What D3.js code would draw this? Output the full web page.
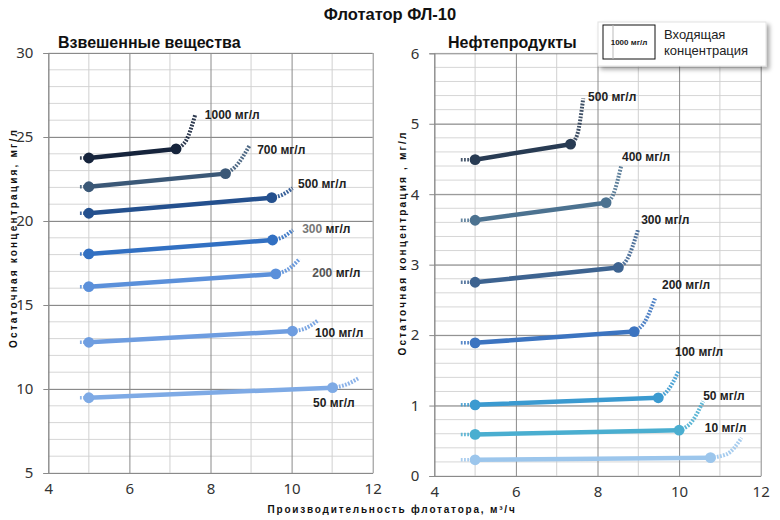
<!DOCTYPE html>
<html>
<head>
<meta charset="utf-8">
<script src="https://cdn.jsdelivr.net/npm/d3@7"></script>
<style>
  body { margin: 0; background: #fff; }
  svg { font-family: "Liberation Sans", Arial, sans-serif; }
  .tick text { font-family: "Noto Sans", sans-serif; font-size: 15px; fill: #333; }
</style>
</head>
<body>
<svg width="780" height="520"></svg>
<script>
// --- data ---
const xTicks = [4, 6, 8, 10, 12];

// Взвешенные вещества (left)
const ssTicks = [5, 10, 15, 20, 25, 30];
const ssNames = ["1000", "700", "500", "300", "200", "100", "50"];
const ssStartY = [23.75, 22.04, 20.46, 18.04, 16.09, 12.78, 9.48];
const ssEndX = [7.15, 8.37, 9.51, 9.53, 9.61, 10.02, 11.01];
const ssEndY = [24.29, 22.82, 21.39, 18.87, 16.85, 13.45, 10.08];
const ssKnee = [[7.4, 24.8], [8.6, 23.2], [9.76, 21.55], [9.79, 19.05], [9.9, 17.1], [10.33, 13.6], [11.32, 10.24]];
const ssTop = [[7.62, 26.3], [8.97, 24.52], [10.02, 21.95], [10.03, 19.46], [10.2, 17.75], [10.66, 14.1], [11.65, 10.64]];
const ssLabelPos = [[7.86, 26.31], [9.15, 24.23], [10.16, 22.2], [10.26, 19.52], [10.51, 16.9], [10.58, 13.33], [10.53, 9.17]];
const ssColors = ["#16243c", "#3b5877", "#24508e", "#3270c2", "#5b90da", "#6e9de0", "#7eaae5"];
const ssNumColors = ["#222", "#222", "#222", "#777", "#555", "#222", "#222"];

// Нефтепродукты (right)
const oilTicks = [0, 1, 2, 3, 4, 5, 6];
const oilNames = ["500", "400", "300", "200", "100", "50", "10"];
const oilStartY = [4.49, 3.63, 2.75, 1.89, 1.01, 0.59, 0.23];
const oilEndX = [7.34, 8.21, 8.51, 8.9, 9.49, 10.0, 10.77];
const oilEndY = [4.71, 3.88, 2.96, 2.05, 1.11, 0.65, 0.26];
const oilKnee = [[7.5, 4.84], [8.38, 3.99], [8.72, 3.07], [9.16, 2.19], [9.73, 1.22], [10.31, 0.77], [11.17, 0.31]];
const oilTop = [[7.65, 5.36], [8.58, 4.4], [8.99, 3.49], [9.41, 2.52], [9.98, 1.48], [10.59, 1.06], [11.53, 0.54]];
const oilLabelPos = [[7.77, 5.38], [8.6, 4.53], [9.07, 3.64], [9.58, 2.71], [9.9, 1.76], [10.59, 1.14], [10.63, 0.68]];
const oilColors = ["#283b53", "#4c7290", "#3d6390", "#3c74c0", "#3b9ad0", "#4aaed0", "#9cc6ec"];

const svg = d3.select("svg");

function drawPanel(p) {
  const x = d3.scaleLinear().domain([4, 12]).range([p.left, p.right]);
  const y = d3.scaleLinear().domain(p.yDomain).range([p.bottom, p.top]);
  const g = svg.append("g");

  // minor grid
  g.append("g")
    .selectAll("line.hmin")
    .data(p.yMinor)
    .join("line")
    .attr("x1", p.left).attr("x2", p.right)
    .attr("y1", d => y(d)).attr("y2", d => y(d))
    .attr("stroke", "#d6d6d6").attr("stroke-width", 1);
  g.append("g")
    .selectAll("line.vmin")
    .data(d3.range(5, 12, 2))
    .join("line")
    .attr("x1", d => x(d)).attr("x2", d => x(d))
    .attr("y1", p.top).attr("y2", p.bottom)
    .attr("stroke", "#d0d0d0").attr("stroke-width", 1);

  // major grid + axes
  const yAxis = g.append("g")
    .attr("transform", `translate(${p.left},0)`)
    .call(d3.axisLeft(y).tickValues(p.yTicks).tickSize(5).tickPadding(10).tickFormat(d3.format("d")));
  yAxis.select(".domain").attr("stroke", "#8a8a8a");
  yAxis.selectAll(".tick line").clone()
    .attr("x1", 0).attr("x2", p.right - p.left);
  yAxis.selectAll(".tick line").attr("stroke", "#8a8a8a");

  const xAxis = g.append("g")
    .attr("transform", `translate(0,${p.bottom})`)
    .call(d3.axisBottom(x).tickValues(xTicks).tickSize(0).tickPadding(10));
  xAxis.select(".domain").attr("stroke", "#8a8a8a");
  xAxis.selectAll(".tick line").attr("y1", 0).attr("y2", p.top - p.bottom).attr("stroke", "#8a8a8a");

  // series
  const line = d3.line().x(d => x(d[0])).y(d => y(d[1]));
  const tail = d3.line().x(d => x(d[0])).y(d => y(d[1])).curve(d3.curveMonotoneX);

  p.names.forEach((name, i) => {
    const c = p.colors[i];
    const s = g.append("g");
    // dotted lead-in
    s.append("path")
      .attr("d", line([[p.leadX, p.startY[i]], [5, p.startY[i]]]))
      .attr("fill", "none").attr("stroke", c).attr("stroke-width", 3.5)
      .attr("stroke-dasharray", "1.8,1.4").attr("opacity", 0.85);
    // solid segment
    s.append("path")
      .attr("d", line([[5, p.startY[i]], [p.endX[i], p.endY[i]]]))
      .attr("fill", "none").attr("stroke", c).attr("stroke-width", 4.5)
      .attr("stroke-linecap", "round");
    // dotted rising tail
    s.append("path")
      .attr("d", tail([[p.endX[i], p.endY[i]], p.knee[i], p.topPt[i]]))
      .attr("fill", "none").attr("stroke", c).attr("stroke-width", 4)
      .attr("stroke-dasharray", "1.8,1.4").attr("opacity", 0.9);
    // markers
    s.selectAll("circle")
      .data([[5, p.startY[i]], [p.endX[i], p.endY[i]]])
      .join("circle")
      .attr("cx", d => x(d[0])).attr("cy", d => y(d[1]))
      .attr("r", 5.4)
      .attr("fill", c);
    // label
    const t = s.append("text")
      .attr("x", x(p.labelPos[i][0]))
      .attr("y", y(p.labelPos[i][1]))
      .attr("dy", "0.35em")
      .style("font-size", "12px")
      .style("font-weight", "bold")
      .attr("fill", "#222");
    t.append("tspan").attr("fill", p.numColors ? p.numColors[i] : "#222").text(name);
    t.append("tspan").text(" мг/л");
  });

  // panel subtitle
  svg.append("text")
    .attr("x", p.subX)
    .attr("y", 48)
    .style("font-size", "16px")
    .style("font-weight", "bold")
    .attr("fill", "#111")
    .text(p.subtitle);

  // y axis title
  svg.append("text")
    .attr("transform", `translate(${p.yTitleX},${p.yTitleY}) rotate(-90)`)
    .attr("text-anchor", "middle")
    .attr("dy", "0.35em")
    .style("font-size", "10px")
    .style("font-weight", "bold")
    .style("letter-spacing", "2.2px")
    .attr("fill", "#111")
    .text(p.yTitle);
}

drawPanel({
  left: 48.3, right: 372.7, top: 53, bottom: 473,
  yDomain: [5, 30], yTicks: ssTicks, yMinor: d3.range(5, 30.01, 1),
  names: ssNames, startY: ssStartY, endX: ssEndX, endY: ssEndY,
  knee: ssKnee, topPt: ssTop, labelPos: ssLabelPos,
  colors: ssColors, numColors: ssNumColors, leadX: 4.78,
  subtitle: "Взвешенные вещества", subX: 58,
  yTitle: "Остаточная  концентрация,  мг/л", yTitleX: 13, yTitleY: 238
});

drawPanel({
  left: 434.3, right: 760.7, top: 53.3, bottom: 476,
  yDomain: [0, 6], yTicks: oilTicks, yMinor: d3.range(0, 6.01, 0.2),
  names: oilNames, startY: oilStartY, endX: oilEndX, endY: oilEndY,
  knee: oilKnee, topPt: oilTop, labelPos: oilLabelPos,
  colors: oilColors, leadX: 4.65,
  subtitle: "Нефтепродукты", subX: 448,
  yTitle: "Остаточная  концентрация  ,  мг/л", yTitleX: 402, yTitleY: 243
});

// main title
svg.append("text")
  .attr("x", 390).attr("y", 20)
  .attr("text-anchor", "middle")
  .style("font-size", "16.5px")
  .style("font-weight", "bold")
  .attr("fill", "#111")
  .text("Флотатор  ФЛ-10");

// x axis title
svg.append("text")
  .attr("x", 392).attr("y", 513)
  .attr("text-anchor", "middle")
  .style("font-size", "10px")
  .style("font-weight", "bold")
  .style("letter-spacing", "1.8px")
  .attr("fill", "#111")
  .text("Производительность  флотатора,  м³/ч");

// legend
const defs = svg.append("defs");
const f = defs.append("filter").attr("id", "shadow").attr("x", "-10%").attr("y", "-20%").attr("width", "130%").attr("height", "160%");
f.append("feDropShadow").attr("dx", 3).attr("dy", 3).attr("stdDeviation", 2).attr("flood-color", "#000").attr("flood-opacity", 0.35);

const legend = svg.append("g").attr("transform", "translate(598,22)");
legend.append("rect")
  .attr("width", 168).attr("height", 44)
  .attr("fill", "#fff").attr("stroke", "#e2e2e2")
  .attr("filter", "url(#shadow)");
legend.append("rect")
  .attr("x", 5).attr("y", 3).attr("width", 52).attr("height", 34)
  .attr("fill", "#fff").attr("stroke", "#111").attr("stroke-width", 1);
legend.append("line")
  .attr("x1", 15).attr("x2", 15).attr("y1", 3).attr("y2", 37)
  .attr("stroke", "#bbb");
legend.append("text")
  .attr("x", 31).attr("y", 23)
  .attr("text-anchor", "middle")
  .style("font-size", "8px").style("font-weight", "bold")
  .attr("fill", "#222")
  .text("1000 мг/л");
legend.append("text")
  .attr("x", 66).attr("y", 17)
  .style("font-size", "13px").attr("fill", "#222")
  .text("Входящая");
legend.append("text")
  .attr("x", 66).attr("y", 33)
  .style("font-size", "13px").attr("fill", "#222")
  .text("концентрация");
</script>
</body>
</html>
